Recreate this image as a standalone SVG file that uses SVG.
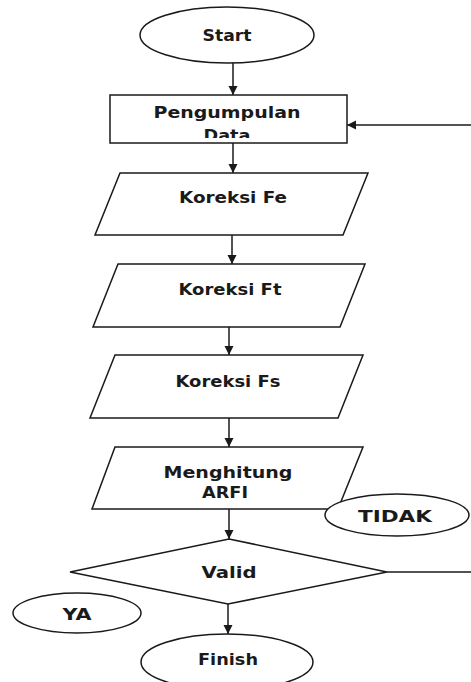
<svg xmlns="http://www.w3.org/2000/svg" width="471" height="682" viewBox="0 0 471 682">
<style>
.s{fill:#fff;stroke:#1a1a1a;stroke-width:1.5}
.c{fill:none;stroke:#1a1a1a;stroke-width:1.5}
text{font-family:"DejaVu Sans","Liberation Sans",sans-serif;font-weight:bold;font-size:15px;fill:#1a1a1a;text-anchor:middle}
</style>
<defs>
<marker id="ah" viewBox="0 0 10 10" refX="10" refY="5" markerWidth="9" markerHeight="10" orient="auto" markerUnits="userSpaceOnUse">
<path d="M0,0 L10,5 L0,10 z" fill="#1a1a1a"/>
</marker>
<clipPath id="pc"><rect x="111" y="96" width="235" height="42"/></clipPath>
</defs>
<rect width="471" height="682" fill="#fff"/>
<g id="connectors">
<line class="c" x1="233" y1="63" x2="233" y2="95" marker-end="url(#ah)"/>
<line class="c" x1="233" y1="143" x2="233" y2="173" marker-end="url(#ah)"/>
<line class="c" x1="232" y1="235" x2="232" y2="264" marker-end="url(#ah)"/>
<line class="c" x1="229" y1="327" x2="229" y2="355" marker-end="url(#ah)"/>
<line class="c" x1="229" y1="418" x2="229" y2="447" marker-end="url(#ah)"/>
<line class="c" x1="229" y1="509" x2="229" y2="539" marker-end="url(#ah)"/>
<line class="c" x1="228" y1="604" x2="228" y2="634" marker-end="url(#ah)"/>
<line class="c" x1="387" y1="572" x2="471" y2="572"/>
<line class="c" x1="471" y1="125" x2="347" y2="125" marker-end="url(#ah)"/>
</g>
<g id="start">
<ellipse class="s" cx="227" cy="35" rx="87" ry="28"/>
<text x="227" y="41" textLength="49" lengthAdjust="spacingAndGlyphs">Start</text>
</g>
<g id="pengumpulan">
<rect class="s" x="110" y="95" width="237" height="48"/>
<g clip-path="url(#pc)">
<text x="227" y="118" textLength="147" lengthAdjust="spacingAndGlyphs">Pengumpulan</text>
<text x="227" y="141" textLength="47" lengthAdjust="spacingAndGlyphs">Data</text>
</g>
</g>
<g id="koreksi-fe">
<polygon class="s" points="120,173 368,173 343,235 95,235"/>
<text x="233" y="203" textLength="108" lengthAdjust="spacingAndGlyphs">Koreksi Fe</text>
</g>
<g id="koreksi-ft">
<polygon class="s" points="118,264 365,264 340,327 93,327"/>
<text x="230" y="295" textLength="103" lengthAdjust="spacingAndGlyphs">Koreksi Ft</text>
</g>
<g id="koreksi-fs">
<polygon class="s" points="115,355 363,355 338,418 90,418"/>
<text x="228" y="387" textLength="105" lengthAdjust="spacingAndGlyphs">Koreksi Fs</text>
</g>
<g id="menghitung">
<polygon class="s" points="115,447 363,447 338,509 92,509"/>
<text x="228" y="478" textLength="129" lengthAdjust="spacingAndGlyphs">Menghitung</text>
<text x="225" y="498" textLength="46" lengthAdjust="spacingAndGlyphs">ARFI</text>
</g>
<g id="tidak">
<ellipse class="s" cx="397" cy="515" rx="72" ry="21"/>
<text x="395" y="522" textLength="74" lengthAdjust="spacingAndGlyphs">TIDAK</text>
</g>
<g id="valid">
<polygon class="s" points="229,539 387,572 228,604 70,572"/>
<text x="229" y="578" textLength="55" lengthAdjust="spacingAndGlyphs">Valid</text>
</g>
<g id="ya">
<ellipse class="s" cx="77" cy="613" rx="64" ry="20"/>
<text x="77" y="620" textLength="29" lengthAdjust="spacingAndGlyphs">YA</text>
</g>
<g id="finish">
<ellipse class="s" cx="227" cy="662" rx="86" ry="28"/>
<text x="228" y="665" textLength="60" lengthAdjust="spacingAndGlyphs">Finish</text>
</g>
</svg>
